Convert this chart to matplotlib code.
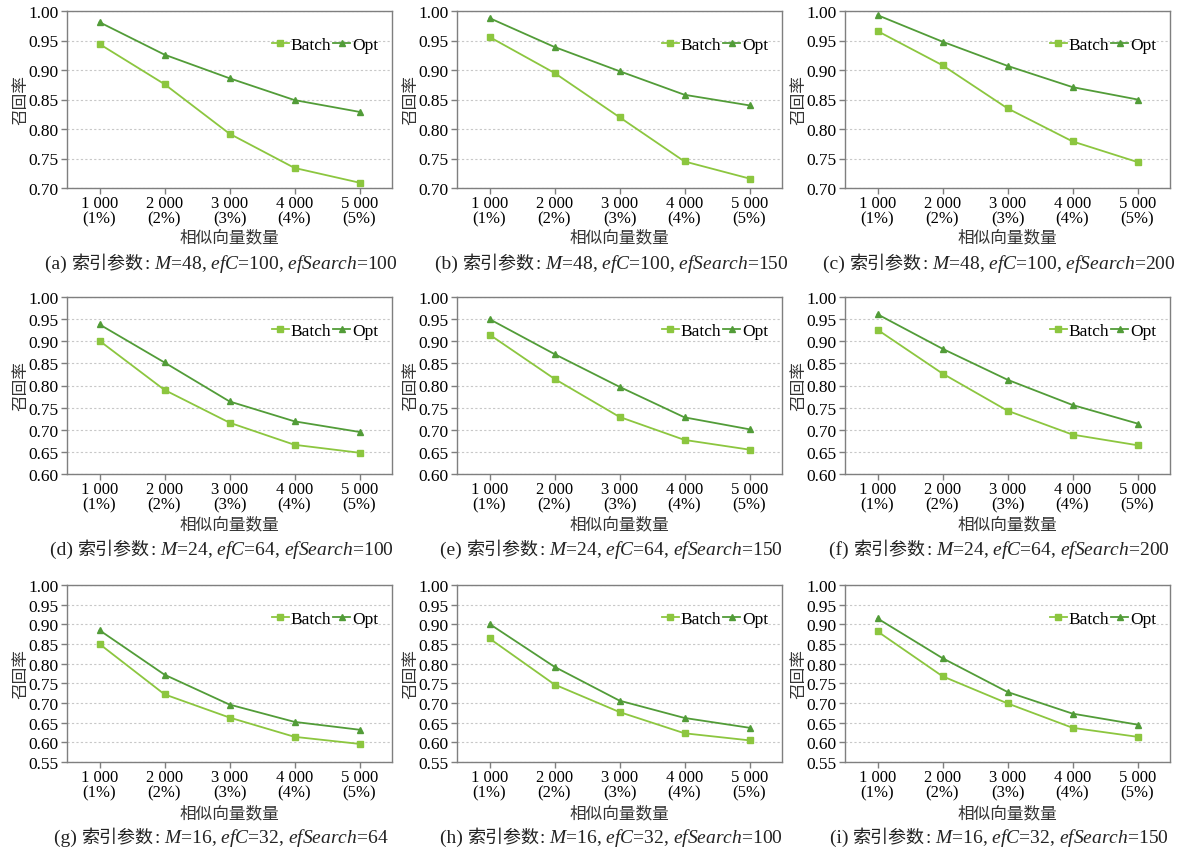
import matplotlib
matplotlib.use("Agg")
import matplotlib.pyplot as plt
from matplotlib.offsetbox import TextArea, HPacker, AnnotationBbox

plt.rcParams['font.family'] = ['Liberation Serif', 'Noto Sans CJK SC']
plt.rcParams['mathtext.fontset'] = 'custom'
plt.rcParams['mathtext.it'] = 'Liberation Serif:italic'
plt.rcParams['mathtext.rm'] = 'Liberation Serif'

categories = ["1 000\n(1%)", "2 000\n(2%)", "3 000\n(3%)", "4 000\n(4%)", "5 000\n(5%)"]

batch_a = [0.944, 0.876, 0.792, 0.734, 0.709]
opt_a = [0.981, 0.926, 0.886, 0.849, 0.829]
batch_b = [0.956, 0.895, 0.820, 0.745, 0.716]
opt_b = [0.988, 0.939, 0.898, 0.858, 0.840]
batch_c = [0.966, 0.908, 0.835, 0.779, 0.744]
opt_c = [0.993, 0.948, 0.907, 0.871, 0.850]
batch_d = [0.901, 0.790, 0.716, 0.666, 0.648]
opt_d = [0.938, 0.852, 0.764, 0.719, 0.695]
batch_e = [0.915, 0.815, 0.729, 0.677, 0.655]
opt_e = [0.950, 0.871, 0.797, 0.728, 0.701]
batch_f = [0.926, 0.827, 0.743, 0.689, 0.665]
opt_f = [0.961, 0.883, 0.813, 0.756, 0.714]
batch_g = [0.850, 0.722, 0.663, 0.614, 0.596]
opt_g = [0.885, 0.772, 0.696, 0.652, 0.632]
batch_h = [0.864, 0.747, 0.677, 0.623, 0.605]
opt_h = [0.901, 0.792, 0.706, 0.662, 0.637]
batch_i = [0.882, 0.768, 0.699, 0.637, 0.614]
opt_i = [0.915, 0.814, 0.728, 0.673, 0.645]

panel_tags = ["(a)", "(b)", "(c)", "(d)", "(e)", "(f)", "(g)", "(h)", "(i)"]
param_M = [48, 48, 48, 24, 24, 24, 16, 16, 16]
param_efC = [100, 100, 100, 64, 64, 64, 32, 32, 32]
param_efSearch = [100, 150, 200, 100, 150, 200, 64, 100, 150]

batches = [batch_a, batch_b, batch_c, batch_d, batch_e, batch_f, batch_g, batch_h, batch_i]
opts = [opt_a, opt_b, opt_c, opt_d, opt_e, opt_f, opt_g, opt_h, opt_i]
ymins = [0.70, 0.70, 0.70, 0.60, 0.60, 0.60, 0.55, 0.55, 0.55]

W, H = 1186, 853
fig = plt.figure(figsize=(W / 100, H / 100), dpi=100)

lefts = [67, 457, 845]
width = 325
tops = [12, 298, 586]
height = 177
xlabel_y = [238, 525, 814]
caption_y = [264, 550, 838]

c_batch = '#8cc63f'
c_opt = '#529c38'
x = list(range(len(categories)))
cjk = ['Noto Sans CJK SC']

for k in range(9):
    r, c = divmod(k, 3)
    L, T = lefts[c], tops[r]
    ax = fig.add_axes([L / W, 1 - (T + height) / H, width / W, height / H])
    ax.plot(x, batches[k], color=c_batch, marker='s', markersize=4.5, lw=1.3, label='Batch')
    ax.plot(x, opts[k], color=c_opt, marker='^', markersize=4.5, lw=1.3, label='Opt')
    ax.set_xlim(-0.5, 4.5)
    ymin = ymins[k]
    ax.set_ylim(ymin, 1.0)
    ticks = []
    v = ymin
    while v <= 1.0001:
        ticks.append(round(v, 2))
        v += 0.05
    ax.set_yticks(ticks)
    ax.set_yticklabels([f"{t:.2f}" for t in ticks], fontsize=12.5)
    ax.set_xticks(x)
    ax.set_xticklabels(categories, fontsize=12, linespacing=0.95)
    ax.yaxis.grid(True, linestyle=(0, (2, 2)), color='#c8c8c8', lw=0.8)
    ax.set_axisbelow(True)
    for s in ax.spines.values():
        s.set_color('#7f7f7f')
        s.set_linewidth(1.0)
    ax.tick_params(axis='both', direction='out', color='#7f7f7f', length=4, width=1, pad=2)
    ax.tick_params(axis='x', pad=1)
    ax.set_ylabel('召回率', fontsize=12, family=cjk, labelpad=-1, color='#333333')
    ax.legend(loc='center right', bbox_to_anchor=(0.99, 0.81), ncol=2, frameon=False,
              fontsize=12.5, handlelength=1.0, handletextpad=0.1, columnspacing=0.1,
              borderaxespad=0.2, markerscale=0.9)
    cx = (L + width / 2) / W
    fig.text(cx, 1 - xlabel_y[r] / H, '相似向量数量', ha='center', va='center', fontsize=12,
             family=cjk, color='#333333')
    tp = dict(fontsize=14, color='#222222')
    pieces = [
        TextArea(panel_tags[k] + " ", textprops=dict(tp, family=['Liberation Serif'])),
        TextArea("索引参数", textprops=dict(fontsize=13, color='#222222', family=cjk)),
        TextArea(f": $M$=%d, $efC$=%d, $efSearch$=%d" % (param_M[k], param_efC[k], param_efSearch[k]),
                 textprops=dict(tp, family=['Liberation Serif'])),
    ]
    pack = HPacker(children=pieces, sep=0, pad=0, align='baseline')
    ab = AnnotationBbox(pack, (cx - 8 / W, 1 - caption_y[r] / H), xycoords='figure fraction',
                        frameon=False, box_alignment=(0.5, 0.5), pad=0)
    fig.add_artist(ab)

fig.savefig('out.png', dpi=100)
